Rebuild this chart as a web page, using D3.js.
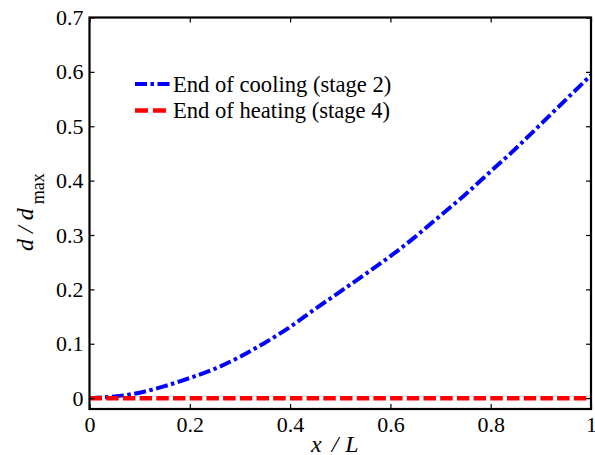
<!DOCTYPE html>
<html>
<head>
<meta charset="utf-8">
<script src="https://cdn.jsdelivr.net/npm/d3@7"></script>
<style>
  html, body { margin: 0; padding: 0; background: #fff; }
  svg text { font-family: "Liberation Serif", "Times New Roman", Tinos, "Nimbus Roman", "DejaVu Serif", serif; }
</style>
</head>
<body>
<div id="chart"></div>
<script>
// x / L positions and the two displacement profiles d / d_max
const xPos = [0, 0.05, 0.1, 0.15, 0.2, 0.25, 0.3, 0.35, 0.4, 0.45, 0.5,
              0.55, 0.6, 0.65, 0.7, 0.75, 0.8, 0.85, 0.9, 0.95, 1];
const coolingStage2 = [0, 0.003, 0.010, 0.022, 0.037, 0.054, 0.076, 0.102, 0.131, 0.164, 0.196,
                       0.228, 0.261, 0.297, 0.336, 0.375, 0.417, 0.459, 0.504, 0.549, 0.594];
const heatingStage4 = [0, 0, 0, 0, 0, 0, 0, 0, 0, 0, 0,
                       0, 0, 0, 0, 0, 0, 0, 0, 0, 0];

const xTicks = [0, 0.2, 0.4, 0.6, 0.8, 1];
const yTicks = [0, 0.1, 0.2, 0.3, 0.4, 0.5, 0.6, 0.7];
const seriesNames = ["End of cooling (stage 2)", "End of heating (stage 4)"];

const width = 595, height = 455;
const plot = { left: 89.5, right: 591, top: 17.5, bottom: 409 };
const serif = '"Liberation Serif", "Times New Roman", Tinos, "Nimbus Roman", "DejaVu Serif", serif';

const svg = d3.select("#chart").append("svg")
  .attr("width", width)
  .attr("height", height)
  .style("display", "block");

const x = d3.scaleLinear().domain([0, 1]).range([plot.left, plot.right]);
const y = d3.scaleLinear().domain([-0.02, 0.7]).range([plot.bottom, plot.top]);

// Curves
const line = d3.line()
  .x(d => x(d[0]))
  .y(d => y(d[1]))
  .curve(d3.curveMonotoneX);

svg.append("path")
  .datum(xPos.map((v, i) => [v, coolingStage2[i]]))
  .attr("d", line)
  .attr("fill", "none")
  .attr("stroke", "#0000ff")
  .attr("stroke-width", 4)
  .attr("stroke-dasharray", "12,3.5,3.5,3.5");

svg.append("path")
  .datum(xPos.map((v, i) => [v, heatingStage4[i]]))
  .attr("d", line)
  .attr("fill", "none")
  .attr("stroke", "#ff0000")
  .attr("stroke-width", 4.5)
  .attr("stroke-dasharray", "12.5,4.2");

// Axes, ticks pointing inward on all four sides
const fmt = d => d === 0 ? "0" : d3.format(".1f")(d).replace(/\.0$/, "");

const styleAxis = g => {
  g.attr("font-family", serif).attr("font-size", 22);
  g.select(".domain").remove();
  g.selectAll("line").attr("stroke", "#000").attr("stroke-width", 1.2);
  g.selectAll("text").attr("fill", "#000");
};

svg.append("g")
  .attr("transform", `translate(0,${plot.bottom})`)
  .call(d3.axisBottom(x).tickValues(xTicks).tickFormat(fmt)
    .tickSizeInner(-5).tickSizeOuter(0).tickPadding(7))
  .call(styleAxis);

svg.append("g")
  .attr("transform", `translate(0,${plot.top})`)
  .call(d3.axisTop(x).tickValues(xTicks).tickFormat("")
    .tickSizeInner(-5).tickSizeOuter(0))
  .call(styleAxis);

svg.append("g")
  .attr("transform", `translate(${plot.left},0)`)
  .call(d3.axisLeft(y).tickValues(yTicks).tickFormat(fmt)
    .tickSizeInner(-5).tickSizeOuter(0).tickPadding(6))
  .call(styleAxis);

svg.append("g")
  .attr("transform", `translate(${plot.right},0)`)
  .call(d3.axisRight(y).tickValues(yTicks).tickFormat("")
    .tickSizeInner(-5).tickSizeOuter(0))
  .call(styleAxis);

// Box
svg.append("rect")
  .attr("x", plot.left)
  .attr("y", plot.top)
  .attr("width", plot.right - plot.left)
  .attr("height", plot.bottom - plot.top)
  .attr("fill", "none")
  .attr("stroke", "#000")
  .attr("stroke-width", 2.2);

// Axis titles
const xLabel = svg.append("text")
  .attr("x", 311)
  .attr("y", 452)
  .attr("font-family", serif)
  .attr("font-size", 24)
  .attr("fill", "#000");
xLabel.append("tspan").attr("font-style", "italic").text("x");
xLabel.append("tspan").attr("dx", 10).attr("font-style", "italic").text("/");
xLabel.append("tspan").attr("dx", 7).attr("font-style", "italic").text("L");

const yLabel = svg.append("text")
  .attr("transform", "translate(33,251) rotate(-90)")
  .attr("font-family", serif)
  .attr("font-size", 24)
  .attr("fill", "#000");
yLabel.append("tspan").attr("font-style", "italic").text("d");
yLabel.append("tspan").attr("dx", 6).attr("font-style", "italic").text("/");
yLabel.append("tspan").attr("dx", 6).attr("font-style", "italic").text("d");
yLabel.append("tspan").attr("dx", 4).attr("dy", 11).attr("font-size", 18).text("max");

// Legend
const legend = svg.append("g").attr("font-family", serif);
const legendStyles = [
  { color: "#0000ff", dash: "12,3.5,3.5,3.5", width: 4 },
  { color: "#ff0000", dash: "13,5", width: 4.5 }
];
seriesNames.forEach((name, i) => {
  const ly = 84 + i * 26.5;
  legend.append("line")
    .attr("x1", 135).attr("x2", 170)
    .attr("y1", ly).attr("y2", ly)
    .attr("stroke", legendStyles[i].color)
    .attr("stroke-width", legendStyles[i].width)
    .attr("stroke-dasharray", legendStyles[i].dash);
  legend.append("text")
    .attr("x", 173)
    .attr("y", ly + 7.5)
    .attr("font-size", 22.6)
    .attr("fill", "#000")
    .text(name);
});
</script>
</body>
</html>
